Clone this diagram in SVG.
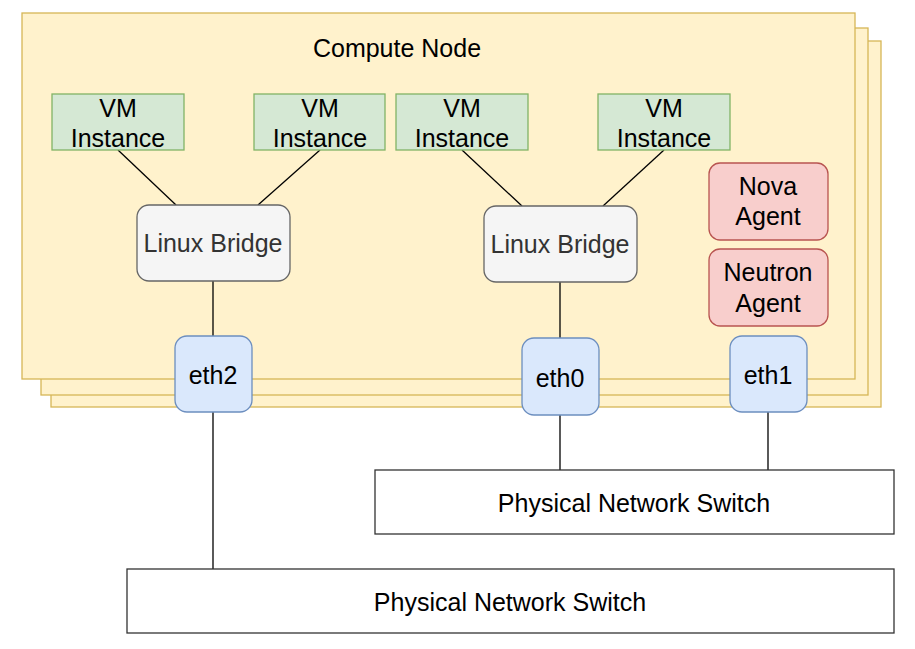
<svg xmlns="http://www.w3.org/2000/svg" width="915" height="649" viewBox="0 0 915 649">
<style>
text{font-family:"Liberation Sans",Arial,sans-serif;font-size:25px;fill:#000;text-anchor:middle}
.stack{fill:#fff2cc;stroke:#d6b656;stroke-width:1.3}
.vm{fill:#d5e8d4;stroke:#82b366;stroke-width:1.3}
.br{fill:#f5f5f5;stroke:#666666;stroke-width:1.3}
.ag{fill:#f8cecc;stroke:#b85450;stroke-width:1.3}
.eth{fill:#dae8fc;stroke:#6c8ebf;stroke-width:1.3}
.sw{fill:#ffffff;stroke:#333333;stroke-width:1.3}
text.brt{fill:#333333}
.c line{stroke:#000;stroke-width:1.3}
</style>
<rect width="915" height="649" fill="#ffffff"/>
<g id="compute-node">
<rect class="stack" x="51" y="41" width="830" height="366"/>
<rect class="stack" x="41" y="28" width="827" height="367"/>
<rect class="stack" x="22" y="13" width="833" height="366"/>
<text x="397" y="57">Compute Node</text>
</g>
<g class="c" id="connectors">
<line x1="118" y1="150" x2="176" y2="205"/>
<line x1="320" y1="150" x2="258" y2="205"/>
<line x1="462" y1="150" x2="522" y2="206"/>
<line x1="664" y1="150" x2="603" y2="206"/>
<line x1="213" y1="281" x2="213" y2="336"/>
<line x1="560" y1="282" x2="560" y2="338"/>
<line x1="213" y1="412" x2="213" y2="569"/>
<line x1="560" y1="415" x2="560" y2="470"/>
<line x1="768" y1="412" x2="768" y2="470"/>
</g>
<g id="vm1"><rect class="vm" x="52" y="94" width="132" height="56"/><text x="118" y="117">VM</text><text x="118" y="147">Instance</text></g>
<g id="vm2"><rect class="vm" x="254" y="94" width="131" height="56"/><text x="320" y="117">VM</text><text x="320" y="147">Instance</text></g>
<g id="vm3"><rect class="vm" x="396" y="94" width="132" height="56"/><text x="462" y="117">VM</text><text x="462" y="147">Instance</text></g>
<g id="vm4"><rect class="vm" x="598" y="94" width="132" height="56"/><text x="664" y="117">VM</text><text x="664" y="147">Instance</text></g>
<g id="bridge1"><rect class="br" x="137" y="205" width="153" height="76" rx="12"/><text class="brt" x="213" y="252">Linux Bridge</text></g>
<g id="bridge2"><rect class="br" x="484" y="206" width="153" height="76" rx="12"/><text class="brt" x="560" y="253">Linux Bridge</text></g>
<g id="nova"><rect class="ag" x="709" y="163" width="119" height="77" rx="11"/><text x="768" y="195">Nova</text><text x="768" y="225">Agent</text></g>
<g id="neutron"><rect class="ag" x="709" y="249" width="119" height="77" rx="11"/><text x="768" y="281">Neutron</text><text x="768" y="312">Agent</text></g>
<g id="eth2"><rect class="eth" x="175" y="336" width="77" height="76" rx="12"/><text x="213" y="384">eth2</text></g>
<g id="eth0"><rect class="eth" x="522" y="338" width="77" height="77" rx="12"/><text x="560" y="387">eth0</text></g>
<g id="eth1"><rect class="eth" x="730" y="336" width="77" height="76" rx="12"/><text x="768" y="384">eth1</text></g>
<g id="switch1"><rect class="sw" x="375" y="470" width="519" height="64"/><text x="634" y="512">Physical Network Switch</text></g>
<g id="switch2"><rect class="sw" x="127" y="569" width="767" height="64"/><text x="510" y="611">Physical Network Switch</text></g>
</svg>
